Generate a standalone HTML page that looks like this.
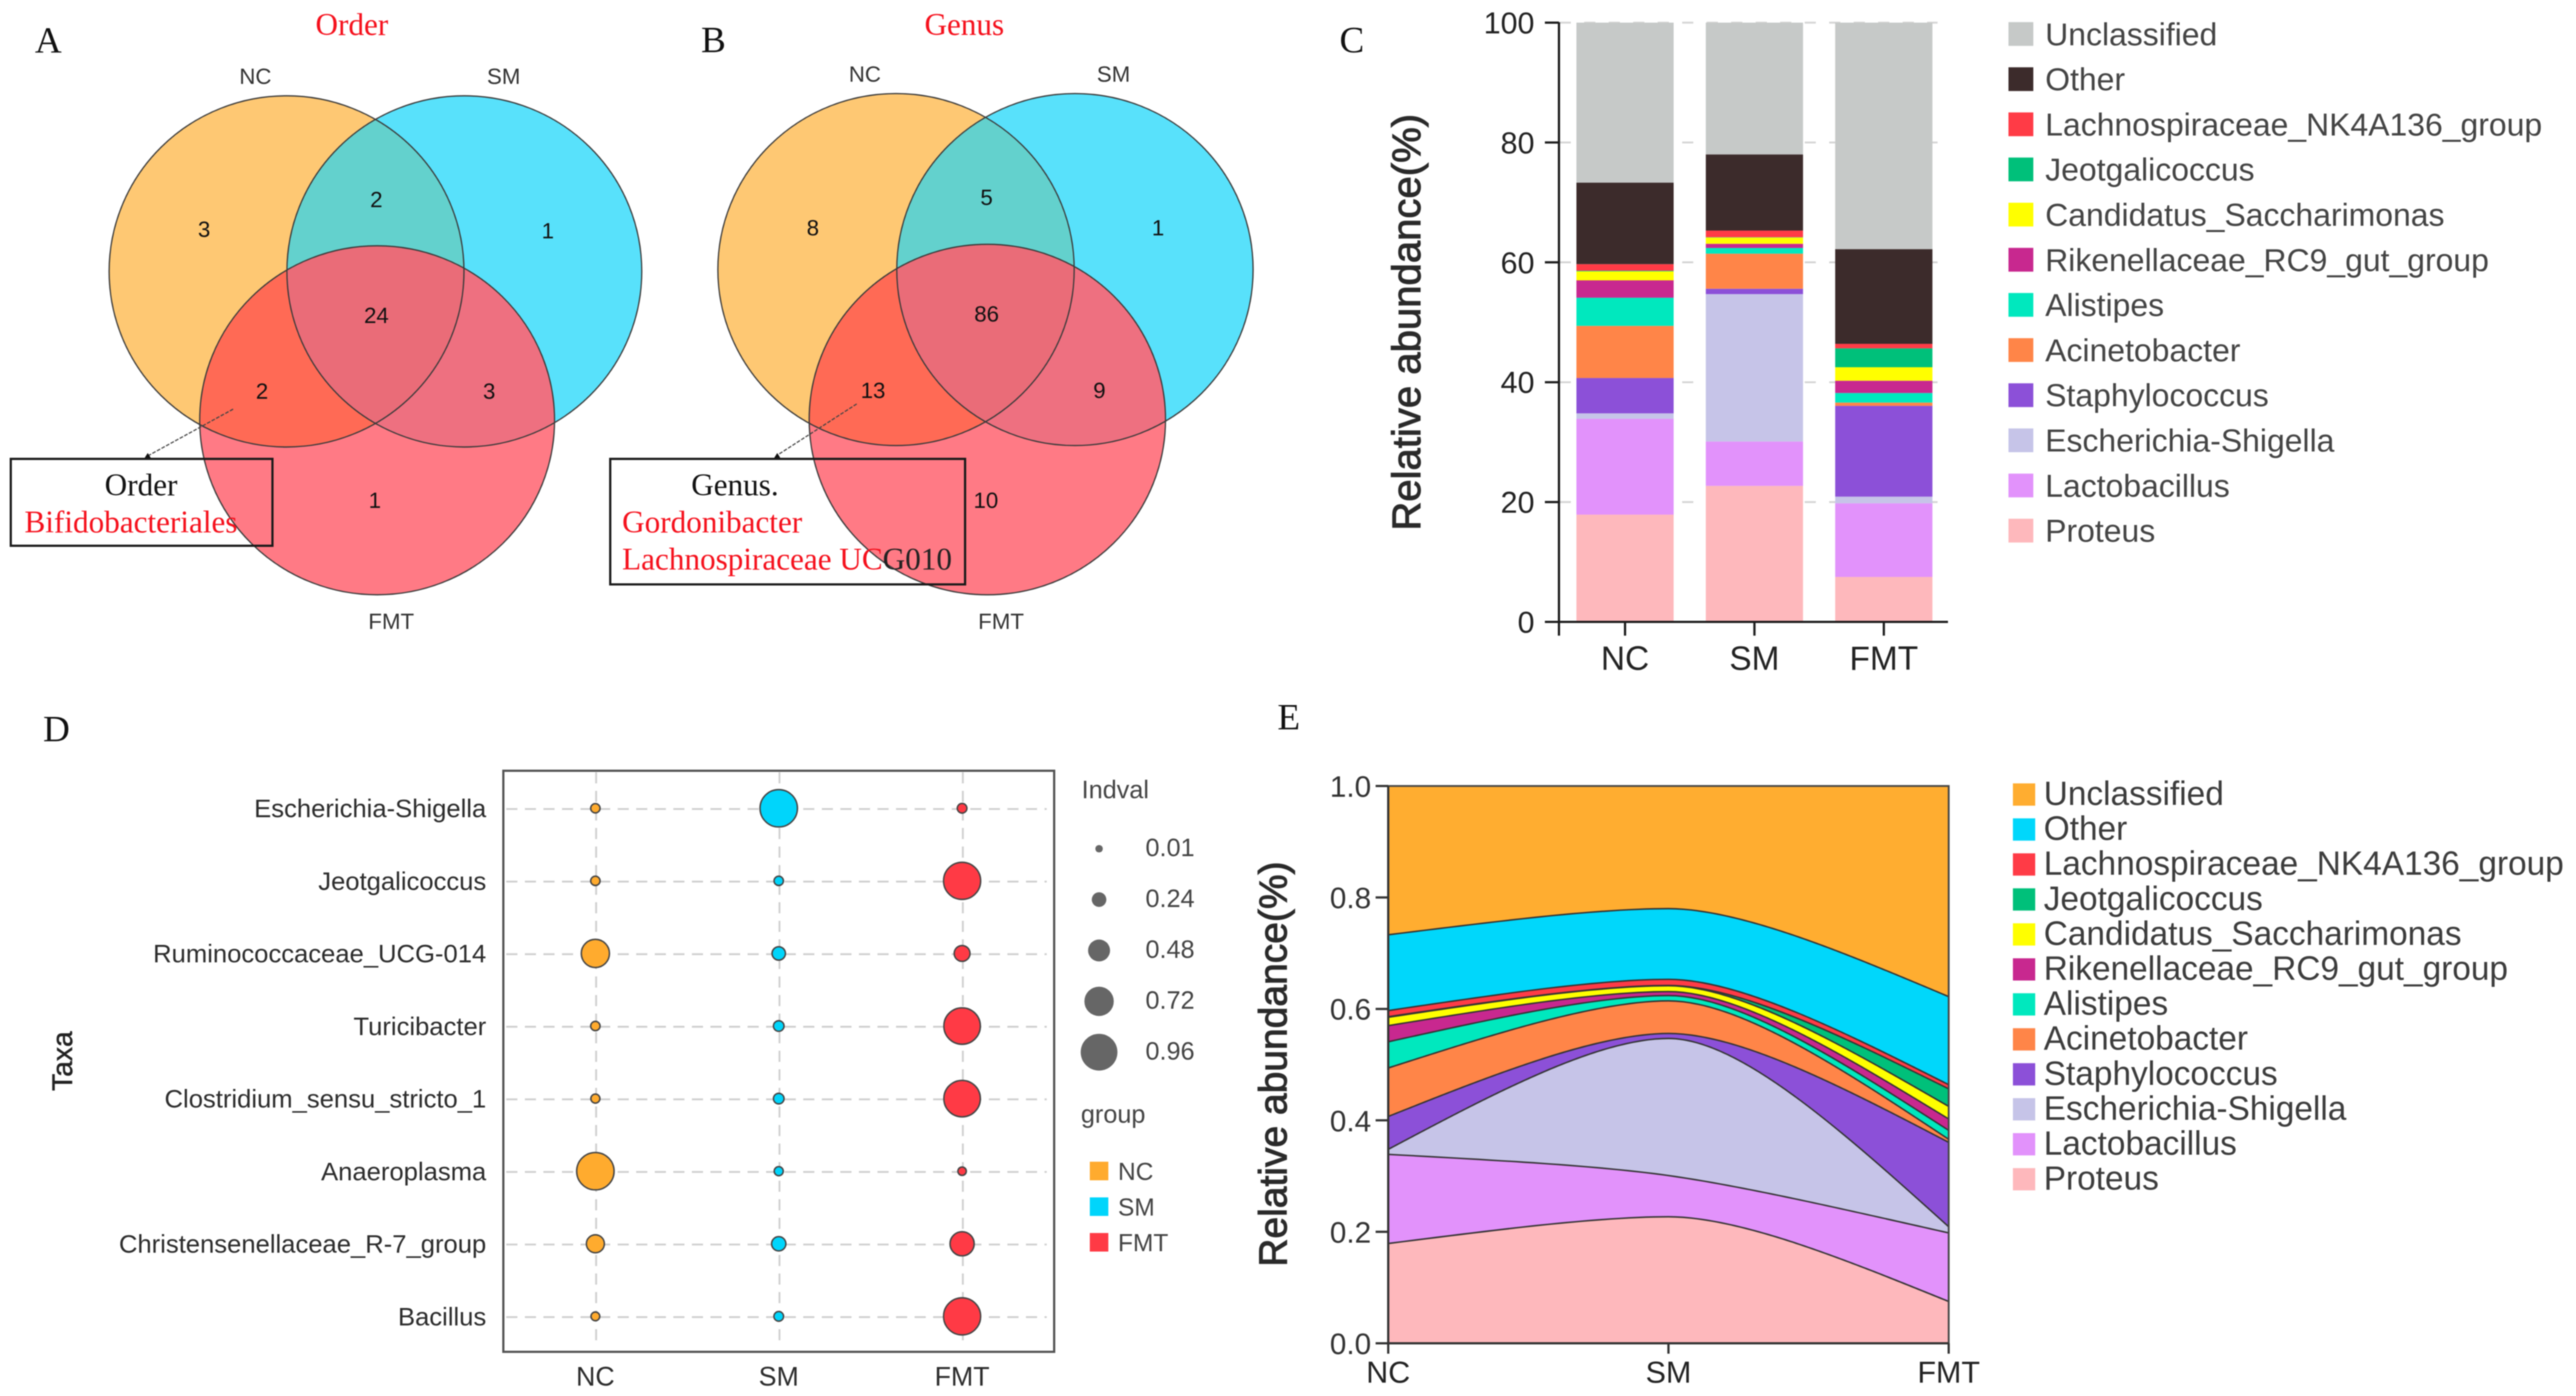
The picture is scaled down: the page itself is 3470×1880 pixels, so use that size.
<!DOCTYPE html>
<html lang="en">
<head>
<meta charset="utf-8">
<title>Microbiota composition figure</title>
<style>
html,body{margin:0;padding:0;background:#fff;}
svg{display:block;font-family:"Liberation Sans",sans-serif;filter:blur(0.7px);}
.serif{font-family:"Liberation Serif",serif;}
.panel{font-size:50px;fill:#111;text-anchor:middle;}
.red-title{font-size:42px;fill:#f5101c;text-anchor:middle;}
.vlabel{font-size:30px;fill:#333;text-anchor:middle;}
.vnum{font-size:30px;fill:#111;text-anchor:middle;}
.boxt{font-size:42px;fill:#111;}
.boxr{font-size:42px;fill:#f5101c;}
</style>
</head>
<body>
<svg id="fig" xmlns="http://www.w3.org/2000/svg" width="3470" height="1880" viewBox="0 0 3470 1880">
<rect x="0" y="0" width="3470" height="1880" fill="#fff"/>
<defs>
<clipPath id="a-nc"><ellipse cx="386" cy="365.5" rx="239" ry="236.5"/></clipPath>
<clipPath id="a-sm"><ellipse cx="625.5" cy="365.5" rx="239" ry="236.5"/></clipPath>
<clipPath id="a-fmt"><ellipse cx="508" cy="566" rx="239" ry="235"/></clipPath>
<clipPath id="b-nc"><ellipse cx="1207" cy="363" rx="240" ry="237"/></clipPath>
<clipPath id="b-sm"><ellipse cx="1448" cy="363" rx="240" ry="237"/></clipPath>
<clipPath id="b-fmt"><ellipse cx="1330" cy="565" rx="240" ry="236"/></clipPath>
</defs>

<!-- Panel A -->
<g>
<text class="serif panel" x="65" y="71">A</text>
<text class="serif red-title" x="474" y="47">Order</text>
<ellipse cx="386" cy="365.5" rx="239" ry="236.5" fill="#fec873"/>
<ellipse cx="625.5" cy="365.5" rx="239" ry="236.5" fill="#58e1fb"/>
<ellipse cx="508" cy="566" rx="239" ry="235" fill="#ff7a85"/>
<g clip-path="url(#a-nc)"><ellipse cx="625.5" cy="365.5" rx="239" ry="236.5" fill="#63d1cd"/></g>
<g clip-path="url(#a-nc)"><ellipse cx="508" cy="566" rx="239" ry="235" fill="#ff6a55"/></g>
<g clip-path="url(#a-sm)"><ellipse cx="508" cy="566" rx="239" ry="235" fill="#ee7080"/></g>
<g clip-path="url(#a-nc)"><g clip-path="url(#a-sm)"><ellipse cx="508" cy="566" rx="239" ry="235" fill="#ea6c78"/></g></g>
<g fill="none" stroke="#3a3a3a" stroke-width="1.7">
<ellipse cx="386" cy="365.5" rx="239" ry="236.5"/>
<ellipse cx="625.5" cy="365.5" rx="239" ry="236.5"/>
<ellipse cx="508" cy="566" rx="239" ry="235"/>
</g>
<text class="vlabel" x="344" y="113">NC</text>
<text class="vlabel" x="678.5" y="113">SM</text>
<text class="vlabel" x="527" y="847">FMT</text>
<text class="vnum" x="275" y="319">3</text>
<text class="vnum" x="507" y="279">2</text>
<text class="vnum" x="738" y="321">1</text>
<text class="vnum" x="507" y="435">24</text>
<text class="vnum" x="353" y="537">2</text>
<text class="vnum" x="659" y="537">3</text>
<text class="vnum" x="505" y="684">1</text>
<line x1="314" y1="551" x2="199" y2="614" stroke="#444" stroke-width="1.6" stroke-dasharray="5 2"/>
<polygon points="199,610 194,618 204,618" fill="#111"/>
<rect x="14.5" y="618" width="352.5" height="117" fill="none" stroke="#1a1a1a" stroke-width="3"/>
<text class="serif boxt" x="190" y="667" text-anchor="middle">Order</text>
<text class="serif boxr" x="33" y="717">Bifidobacteriales</text>
</g>

<!-- Panel B -->
<g>
<text class="serif panel" x="961" y="70">B</text>
<text class="serif red-title" x="1299" y="47">Genus</text>
<ellipse cx="1207" cy="363" rx="240" ry="237" fill="#fec873"/>
<ellipse cx="1448" cy="363" rx="240" ry="237" fill="#58e1fb"/>
<ellipse cx="1330" cy="565" rx="240" ry="236" fill="#ff7a85"/>
<g clip-path="url(#b-nc)"><ellipse cx="1448" cy="363" rx="240" ry="237" fill="#63d1cd"/></g>
<g clip-path="url(#b-nc)"><ellipse cx="1330" cy="565" rx="240" ry="236" fill="#ff6a55"/></g>
<g clip-path="url(#b-sm)"><ellipse cx="1330" cy="565" rx="240" ry="236" fill="#ee7080"/></g>
<g clip-path="url(#b-nc)"><g clip-path="url(#b-sm)"><ellipse cx="1330" cy="565" rx="240" ry="236" fill="#ea6c78"/></g></g>
<g fill="none" stroke="#3a3a3a" stroke-width="1.7">
<ellipse cx="1207" cy="363" rx="240" ry="237"/>
<ellipse cx="1448" cy="363" rx="240" ry="237"/>
<ellipse cx="1330" cy="565" rx="240" ry="236"/>
</g>
<text class="vlabel" x="1165" y="110">NC</text>
<text class="vlabel" x="1500" y="110">SM</text>
<text class="vlabel" x="1348.5" y="847">FMT</text>
<text class="vnum" x="1095" y="317">8</text>
<text class="vnum" x="1329" y="276">5</text>
<text class="vnum" x="1560" y="317">1</text>
<text class="vnum" x="1329" y="433">86</text>
<text class="vnum" x="1176" y="536">13</text>
<text class="vnum" x="1481" y="536">9</text>
<text class="vnum" x="1328" y="684">10</text>
<line x1="1154" y1="544" x2="1045.5" y2="614" stroke="#444" stroke-width="1.6" stroke-dasharray="5 2"/>
<polygon points="1047,610 1042,618 1052,618" fill="#111"/>
<rect x="822" y="618" width="478" height="169" fill="none" stroke="#1a1a1a" stroke-width="3"/>
<text class="serif boxt" x="990" y="667" text-anchor="middle">Genus.</text>
<text class="serif boxr" x="838" y="717">Gordonibacter</text>
<text class="serif boxr" x="838" y="767">Lachnospiraceae UC<tspan fill="#222">G010</tspan></text>
</g>

<text class="serif panel" x="1821" y="70">C</text>
<text class="serif panel" x="76" y="998">D</text>
<text class="serif panel" x="1736" y="982">E</text>

<g id="chart-c"></g>
<g id="chart-d"></g>
<g id="chart-e"></g>
</svg>

<script>
// ---- Relative abundance data (percent), in group order NC, SM, FMT ----
const groups = ['NC', 'SM', 'FMT'];
const proteus = [17.9, 22.7, 7.5];
const lactobacillus = [16.0, 7.4, 12.3];
const escherichia = [0.9, 24.6, 1.1];
const staphylococcus = [5.9, 0.9, 15.15];
const acinetobacter = [8.7, 5.85, 0.55];
const alistipes = [4.7, 0.95, 1.6];
const rikenellaceae = [2.9, 0.7, 2.05];
const candidatus = [1.5, 1.05, 2.25];
const jeotgalicoccus = [0.1, 0.05, 3.15];
const lachnospiraceae = [1.1, 1.1, 0.75];
const other = [13.6, 12.7, 15.8];
const unclassified = [26.7, 22.0, 37.8];
const stackOrder = [proteus, lactobacillus, escherichia, staphylococcus, acinetobacter, alistipes, rikenellaceae, candidatus, jeotgalicoccus, lachnospiraceae, other, unclassified];
const seriesNames = ['Proteus', 'Lactobacillus', 'Escherichia-Shigella', 'Staphylococcus', 'Acinetobacter', 'Alistipes', 'Rikenellaceae_RC9_gut_group', 'Candidatus_Saccharimonas', 'Jeotgalicoccus', 'Lachnospiraceae_NK4A136_group', 'Other', 'Unclassified'];
const barTicks = [0, 20, 40, 60, 80, 100];
const areaTicks = [0, 0.2, 0.4, 0.6, 0.8, 1.0];

// ---- Indicator value data ----
const taxa = ['Escherichia-Shigella', 'Jeotgalicoccus', 'Ruminococcaceae_UCG-014', 'Turicibacter', 'Clostridium_sensu_stricto_1', 'Anaeroplasma', 'Christensenellaceae_R-7_group', 'Bacillus'];
const indvalNC = [0.07, 0.07, 0.68, 0.07, 0.06, 0.98, 0.35, 0.05];
const indvalSM = [0.98, 0.07, 0.2, 0.11, 0.11, 0.06, 0.23, 0.08];
const indvalFMT = [0.08, 0.97, 0.28, 0.95, 0.95, 0.04, 0.55, 0.97];
const indvalLegend = [0.01, 0.24, 0.48, 0.72, 0.96];

// ---- Styling ----
const barColors = ['#feb8bc', '#e292fb', '#c6c4e8', '#8c50d8', '#ff8548', '#00e8be', '#c8288f', '#ffff00', '#00c07a', '#ff3b46', '#3c2b2b', '#c6c9c8'];
const areaColors = ['#feb8bc', '#e292fb', '#c6c4e8', '#8c50d8', '#ff8548', '#00e8be', '#c8288f', '#ffff00', '#00c07a', '#ff3b46', '#00d7fb', '#ffad30'];
const groupColors = ['#ffab2e', '#00d5fb', '#ff3a45'];

const NS = 'http://www.w3.org/2000/svg';
function mk(parent, tag, attrs, text) {
  const node = document.createElementNS(NS, tag);
  for (const k in attrs) node.setAttribute(k, attrs[k]);
  if (text !== undefined) node.textContent = text;
  parent.appendChild(node);
  return node;
}
function cumulative(groupIndex) {
  const out = [0];
  stackOrder.forEach(function (s, i) { out.push(out[i] + s[groupIndex]); });
  return out;
}
const cums = groups.map(function (g, i) { return cumulative(i); });
let el;

// ======== Panel C: stacked bars ========
(function () {
  const root = document.getElementById('chart-c');
  const yC = function (v) { return 837.5 - v * 8.07; };
  const xC = function (i) { return 2189 + i * 174.3; };
  const barW = 131;
  barTicks.forEach(function (t) {
    if (t === 0) return;
    el = mk(root, 'line', { x1: 2101, x2: 2610, y1: yC(t), y2: yC(t), stroke: '#d4d4d4', 'stroke-width': 2.5, 'stroke-dasharray': '15 18' });
    
    
  });
  groups.forEach(function (g, gi) {
    stackOrder.forEach(function (s, si) {
      const top = yC(cums[gi][si + 1]);
      const bot = yC(cums[gi][si]);
      el = mk(root, 'rect', { x: xC(gi) - barW / 2, y: top, width: barW, height: Math.max(bot - top, 0), fill: barColors[si] });
      
      
    });
  });
  el = mk(root, 'line', { x1: 2100, x2: 2100, y1: 30, y2: 856, stroke: '#1c1c1c', 'stroke-width': 3 });
  
  
  el = mk(root, 'line', { x1: 2081, x2: 2624, y1: yC(0), y2: yC(0), stroke: '#1c1c1c', 'stroke-width': 3 });
  
  
  barTicks.forEach(function (t) {
    if (t !== 0) {
      el = mk(root, 'line', { x1: 2081, x2: 2100, y1: yC(t), y2: yC(t), stroke: '#1c1c1c', 'stroke-width': 3 });
      
      
    }
    el = mk(root, 'text', { x: 2067, y: yC(t) + 14.5, 'text-anchor': 'end', 'font-size': 41, fill: '#222' }, String(t));
    
    
  });
  groups.forEach(function (g, gi) {
    el = mk(root, 'line', { x1: xC(gi), x2: xC(gi), y1: yC(0), y2: 856, stroke: '#1c1c1c', 'stroke-width': 3 });
    
    
    el = mk(root, 'text', { x: xC(gi), y: 902, 'text-anchor': 'middle', 'font-size': 45, fill: '#222' }, g);
    
    
  });
  el = mk(root, 'text', { transform: 'translate(1913,434) rotate(-90)', 'text-anchor': 'middle', 'font-size': 54, fill: '#2a2a2a', stroke: '#2a2a2a', 'stroke-width': 1.2 }, 'Relative abundance(%)');
  
  
  seriesNames.slice().reverse().forEach(function (name, i) {
    const color = barColors[seriesNames.length - 1 - i];
    const cy = 45.8 + i * 60.8;
    el = mk(root, 'rect', { x: 2705.5, y: cy - 16, width: 33.5, height: 32, fill: color });
    
    
    el = mk(root, 'text', { x: 2755, y: cy + 15, 'font-size': 43, fill: '#444' }, name);
    
    
  });
})();

// ======== Panel D: bubble chart ========
(function () {
  const root = document.getElementById('chart-d');
  const yD = function (i) { return 1088.5 + i * 97.75; };
  const xD = function (i) { return 802 + i * 247; };
  const diam = function (v) { return 9.7 + 41.5 * v; };
  const seriesD = [indvalNC, indvalSM, indvalFMT];
  taxa.forEach(function (t, i) {
    el = mk(root, 'line', { x1: 682, x2: 1410, y1: yD(i) + 1, y2: yD(i) + 1, stroke: '#cfcfcf', 'stroke-width': 2.5, 'stroke-dasharray': '15 10' });
    
    
  });
  groups.forEach(function (g, gi) {
    el = mk(root, 'line', { x1: xD(gi) + 1, x2: xD(gi) + 1, y1: 1040, y2: 1806, stroke: '#cfcfcf', 'stroke-width': 2.5, 'stroke-dasharray': '15 10' });
    
    
  });
  el = mk(root, 'rect', { x: 678, y: 1038, width: 742, height: 782.5, fill: 'none', stroke: '#555', 'stroke-width': 3 });
  
  
  taxa.forEach(function (t, i) {
    el = mk(root, 'text', { x: 655, y: yD(i) + 12, 'text-anchor': 'end', 'font-size': 34.5, fill: '#2c2c2c' }, t);
    
    
    seriesD.forEach(function (s, gi) {
      el = mk(root, 'circle', { cx: xD(gi), cy: yD(i), r: diam(s[i]) / 2, fill: groupColors[gi], stroke: '#444', 'stroke-width': 2 });
      
      
    });
  });
  groups.forEach(function (g, gi) {
    el = mk(root, 'text', { x: xD(gi), y: 1866, 'text-anchor': 'middle', 'font-size': 36, fill: '#2c2c2c' }, g);
    
    
  });
  el = mk(root, 'text', { transform: 'translate(97,1429) rotate(-90)', 'text-anchor': 'middle', 'font-size': 38, fill: '#222', stroke: '#222', 'stroke-width': 0.6 }, 'Taxa');
  
  
  el = mk(root, 'text', { x: 1457, y: 1075, 'font-size': 34, fill: '#444' }, 'Indval');
  
  
  indvalLegend.forEach(function (v, i) {
    const cy = 1143 + i * 68.5;
    el = mk(root, 'circle', { cx: 1480.5, cy: cy, r: diam(v) / 2, fill: '#666' });
    
    
    el = mk(root, 'text', { x: 1543, y: cy + 10, 'font-size': 34, fill: '#444' }, v.toFixed(2));
    
    
  });
  el = mk(root, 'text', { x: 1456, y: 1512, 'font-size': 34, fill: '#444' }, 'group');
  
  
  groups.forEach(function (g, gi) {
    const cy = 1577 + gi * 48;
    el = mk(root, 'rect', { x: 1468, y: cy - 12.5, width: 25, height: 25, fill: groupColors[gi] });
    
    
    el = mk(root, 'text', { x: 1506, y: cy + 12, 'font-size': 33, fill: '#444' }, g);
    
    
  });
})();

// ======== Panel E: smoothed stacked area ========
(function () {
  const root = document.getElementById('chart-e');
  const yE = function (v) { return 1809 - v * 750.5; };
  const xE = function (i) { return 1870 + i * 377.5; };
  const handle = 96;
  function boundaryPath(values) {
    const p = values.map(function (v, i) { return [xE(i), yE(v)]; });
    const d1 = p[1][1] - p[0][1];
    const d2 = p[2][1] - p[1][1];
    const slope = d1 * d2 <= 0 ? 0 : (p[2][1] - p[0][1]) / (p[2][0] - p[0][0]);
    const c2 = [p[1][0] - handle, p[1][1] - slope * handle];
    const c1 = [(p[0][0] + c2[0]) / 2, (p[0][1] + c2[1]) / 2];
    const c3 = [p[1][0] + handle, p[1][1] + slope * handle];
    const c4 = [(p[2][0] + c3[0]) / 2, (p[2][1] + c3[1]) / 2];
    return 'M' + p[0][0] + ',' + p[0][1] +
      ' C' + c1[0] + ',' + c1[1] + ' ' + c2[0] + ',' + c2[1] + ' ' + p[1][0] + ',' + p[1][1] +
      ' C' + c3[0] + ',' + c3[1] + ' ' + c4[0] + ',' + c4[1] + ' ' + p[2][0] + ',' + p[2][1];
  }
  for (let si = stackOrder.length - 1; si >= 0; si--) {
    const upper = groups.map(function (g, gi) { return cums[gi][si + 1] / 100; });
    const d = boundaryPath(upper) + ' L' + xE(2) + ',' + yE(0) + ' L' + xE(0) + ',' + yE(0) + ' Z';
    el = mk(root, 'path', { d: d, fill: areaColors[si], stroke: '#333', 'stroke-width': 2, 'stroke-linejoin': 'round' });
    
    
  }
  el = mk(root, 'path', { d: 'M' + xE(0) + ',' + yE(1) + ' L' + xE(2) + ',' + yE(1) + ' L' + xE(2) + ',' + (yE(0) + 14), fill: 'none', stroke: '#444', 'stroke-width': 2.5 });
  
  
  el = mk(root, 'line', { x1: xE(0), x2: xE(0), y1: yE(1), y2: yE(0) + 14, stroke: '#333', 'stroke-width': 3 });
  
  
  el = mk(root, 'line', { x1: 1853, x2: xE(2), y1: yE(0), y2: yE(0), stroke: '#333', 'stroke-width': 3 });
  
  
  areaTicks.forEach(function (t) {
    el = mk(root, 'line', { x1: 1853, x2: xE(0), y1: yE(t), y2: yE(t), stroke: '#333', 'stroke-width': 3 });
    
    
    el = mk(root, 'text', { x: 1847, y: yE(t) + 14.5, 'text-anchor': 'end', 'font-size': 40, fill: '#333' }, t.toFixed(1));
    
    
  });
  groups.forEach(function (g, gi) {
    el = mk(root, 'line', { x1: xE(gi), x2: xE(gi), y1: yE(0), y2: yE(0) + 14, stroke: '#333', 'stroke-width': 3 });
    
    
    el = mk(root, 'text', { x: xE(gi), y: 1862, 'text-anchor': 'middle', 'font-size': 41, fill: '#222' }, g);
    
    
  });
  el = mk(root, 'text', { transform: 'translate(1733,1433) rotate(-90)', 'text-anchor': 'middle', 'font-size': 52.5, fill: '#2a2a2a', stroke: '#2a2a2a', 'stroke-width': 1.2 }, 'Relative abundance(%)');
  
  
  seriesNames.slice().reverse().forEach(function (name, i) {
    const color = areaColors[seriesNames.length - 1 - i];
    const cy = 1070 + i * 47.1;
    el = mk(root, 'rect', { x: 2711.5, y: cy - 15, width: 30, height: 30, fill: color });
    
    
    el = mk(root, 'text', { x: 2753, y: cy + 14, 'font-size': 45, fill: '#3c3c3c' }, name);
    
    
  });
})();
</script>
</body>
</html>
